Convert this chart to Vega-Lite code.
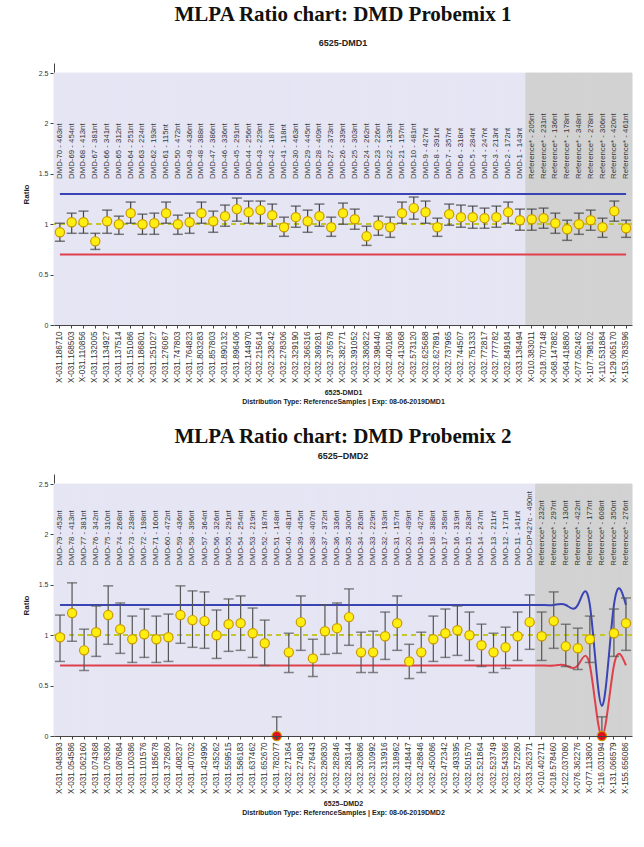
{
  "$schema": "https://vega.github.io/schema/vega-lite/v6.json",
  "background": "white",
  "padding": {"left": 22, "top": 4, "right": 2, "bottom": 2},
  "spacing": 21,
  "config": {
    "view": {"stroke": null},
    "title": {"font": "Liberation Serif", "fontWeight": "bold", "fontSize": 21, "color": "#111", "anchor": "middle", "subtitleFont": "Liberation Sans", "subtitleFontWeight": "bold", "subtitleFontSize": 9, "subtitleColor": "#222"},
    "axis": {"labelFont": "Liberation Sans", "titleFont": "Liberation Sans", "labelColor": "#333", "domainColor": "#444", "tickColor": "#444", "grid": false}
  },
  "datasets": {
    "p1": [
      {"probe": "DMD-70 - 463nt", "pos": "X-031.186710", "type": "probe", "ratio": 0.92, "lo": 0.83, "hi": 1.01, "upper": 1.3, "lower": 0.7},
      {"probe": "DMD-69 - 454nt", "pos": "X-031.168503", "type": "probe", "ratio": 1.02, "lo": 0.91, "hi": 1.11, "upper": 1.3, "lower": 0.7},
      {"probe": "DMD-68 - 413nt", "pos": "X-031.110856", "type": "probe", "ratio": 1.02, "lo": 0.91, "hi": 1.13, "upper": 1.3, "lower": 0.7},
      {"probe": "DMD-67 - 381nt", "pos": "X-031.132005", "type": "probe", "ratio": 0.83, "lo": 0.75, "hi": 0.91, "upper": 1.3, "lower": 0.7},
      {"probe": "DMD-66 - 341nt", "pos": "X-031.134927", "type": "probe", "ratio": 1.03, "lo": 0.91, "hi": 1.14, "upper": 1.3, "lower": 0.7},
      {"probe": "DMD-65 - 312nt", "pos": "X-031.137514", "type": "probe", "ratio": 1.0, "lo": 0.9, "hi": 1.08, "upper": 1.3, "lower": 0.7},
      {"probe": "DMD-64 - 251nt", "pos": "X-031.151086", "type": "probe", "ratio": 1.11, "lo": 1.01, "hi": 1.22, "upper": 1.3, "lower": 0.7},
      {"probe": "DMD-63 - 224nt", "pos": "X-031.186801", "type": "probe", "ratio": 1.0, "lo": 0.9, "hi": 1.1, "upper": 1.3, "lower": 0.7},
      {"probe": "DMD-62 - 193nt", "pos": "X-031.251027", "type": "probe", "ratio": 1.01, "lo": 0.9, "hi": 1.11, "upper": 1.3, "lower": 0.7},
      {"probe": "DMD-61 - 115nt", "pos": "X-031.276067", "type": "probe", "ratio": 1.11, "lo": 1.01, "hi": 1.22, "upper": 1.3, "lower": 0.7},
      {"probe": "DMD-50 - 472nt", "pos": "X-031.747803", "type": "probe", "ratio": 1.0, "lo": 0.9, "hi": 1.09, "upper": 1.3, "lower": 0.7},
      {"probe": "DMD-49 - 436nt", "pos": "X-031.764823", "type": "probe", "ratio": 1.02, "lo": 0.91, "hi": 1.11, "upper": 1.3, "lower": 0.7},
      {"probe": "DMD-48 - 388nt", "pos": "X-031.803283", "type": "probe", "ratio": 1.11, "lo": 1.01, "hi": 1.22, "upper": 1.3, "lower": 0.7},
      {"probe": "DMD-47 - 386nt", "pos": "X-031.857803", "type": "probe", "ratio": 1.03, "lo": 0.92, "hi": 1.13, "upper": 1.3, "lower": 0.7},
      {"probe": "DMD-46 - 336nt", "pos": "X-031.890132", "type": "probe", "ratio": 1.08, "lo": 0.98, "hi": 1.19, "upper": 1.3, "lower": 0.7},
      {"probe": "DMD-45 - 291nt", "pos": "X-031.896406", "type": "probe", "ratio": 1.15, "lo": 1.03, "hi": 1.26, "upper": 1.3, "lower": 0.7},
      {"probe": "DMD-44 - 256nt", "pos": "X-032.144970", "type": "probe", "ratio": 1.12, "lo": 1.01, "hi": 1.23, "upper": 1.3, "lower": 0.7},
      {"probe": "DMD-43 - 229nt", "pos": "X-032.215614", "type": "probe", "ratio": 1.14, "lo": 1.01, "hi": 1.23, "upper": 1.3, "lower": 0.7},
      {"probe": "DMD-42 - 187nt", "pos": "X-032.238242", "type": "probe", "ratio": 1.09, "lo": 0.98, "hi": 1.2, "upper": 1.3, "lower": 0.7},
      {"probe": "DMD-41 - 118nt", "pos": "X-032.278306", "type": "probe", "ratio": 0.97, "lo": 0.88, "hi": 1.07, "upper": 1.3, "lower": 0.7},
      {"probe": "DMD-30 - 463nt", "pos": "X-032.329190", "type": "probe", "ratio": 1.07, "lo": 0.97, "hi": 1.18, "upper": 1.3, "lower": 0.7},
      {"probe": "DMD-29 - 445nt", "pos": "X-032.366316", "type": "probe", "ratio": 1.03, "lo": 0.92, "hi": 1.14, "upper": 1.3, "lower": 0.7},
      {"probe": "DMD-28 - 409nt", "pos": "X-032.369281", "type": "probe", "ratio": 1.08, "lo": 0.98, "hi": 1.2, "upper": 1.3, "lower": 0.7},
      {"probe": "DMD-27 - 373nt", "pos": "X-032.376578", "type": "probe", "ratio": 0.97, "lo": 0.88, "hi": 1.07, "upper": 1.3, "lower": 0.7},
      {"probe": "DMD-26 - 339nt", "pos": "X-032.382771", "type": "probe", "ratio": 1.11, "lo": 1.0, "hi": 1.21, "upper": 1.3, "lower": 0.7},
      {"probe": "DMD-25 - 303nt", "pos": "X-032.391052", "type": "probe", "ratio": 1.05, "lo": 0.95, "hi": 1.15, "upper": 1.3, "lower": 0.7},
      {"probe": "DMD-24 - 262nt", "pos": "X-032.380822", "type": "probe", "ratio": 0.88, "lo": 0.79, "hi": 0.98, "upper": 1.3, "lower": 0.7},
      {"probe": "DMD-23 - 226nt", "pos": "X-032.398440", "type": "probe", "ratio": 0.99, "lo": 0.89, "hi": 1.08, "upper": 1.3, "lower": 0.7},
      {"probe": "DMD-22 - 133nt", "pos": "X-032.400186", "type": "probe", "ratio": 0.97, "lo": 0.87, "hi": 1.07, "upper": 1.3, "lower": 0.7},
      {"probe": "DMD-21 - 157nt", "pos": "X-032.413068", "type": "probe", "ratio": 1.11, "lo": 1.01, "hi": 1.22, "upper": 1.3, "lower": 0.7},
      {"probe": "DMD-10 - 481nt", "pos": "X-032.573120", "type": "probe", "ratio": 1.16, "lo": 1.05, "hi": 1.27, "upper": 1.3, "lower": 0.7},
      {"probe": "DMD-9 - 427nt", "pos": "X-032.625688", "type": "probe", "ratio": 1.12, "lo": 1.01, "hi": 1.23, "upper": 1.3, "lower": 0.7},
      {"probe": "DMD-8 - 391nt", "pos": "X-032.627891", "type": "probe", "ratio": 0.97, "lo": 0.88, "hi": 1.06, "upper": 1.3, "lower": 0.7},
      {"probe": "DMD-7 - 357nt", "pos": "X-032.737965", "type": "probe", "ratio": 1.1, "lo": 0.99, "hi": 1.2, "upper": 1.3, "lower": 0.7},
      {"probe": "DMD-6 - 318nt", "pos": "X-032.744507", "type": "probe", "ratio": 1.07, "lo": 0.97, "hi": 1.19, "upper": 1.3, "lower": 0.7},
      {"probe": "DMD-5 - 284nt", "pos": "X-032.751333", "type": "probe", "ratio": 1.07, "lo": 0.96, "hi": 1.18, "upper": 1.3, "lower": 0.7},
      {"probe": "DMD-4 - 247nt", "pos": "X-032.772817", "type": "probe", "ratio": 1.06, "lo": 0.96, "hi": 1.16, "upper": 1.3, "lower": 0.7},
      {"probe": "DMD-3 - 213nt", "pos": "X-032.777782", "type": "probe", "ratio": 1.07, "lo": 0.97, "hi": 1.18, "upper": 1.3, "lower": 0.7},
      {"probe": "DMD-2 - 172nt", "pos": "X-032.849184", "type": "probe", "ratio": 1.12, "lo": 1.01, "hi": 1.22, "upper": 1.3, "lower": 0.7},
      {"probe": "DMD-1 - 143nt", "pos": "X-033.136494", "type": "probe", "ratio": 1.04, "lo": 0.94, "hi": 1.15, "upper": 1.3, "lower": 0.7},
      {"probe": "Reference* - 205nt", "pos": "X-010.383011", "type": "reference", "ratio": 1.05, "lo": 0.94, "hi": 1.15, "upper": 1.3, "lower": 0.7},
      {"probe": "Reference* - 231nt", "pos": "X-018.707148", "type": "reference", "ratio": 1.06, "lo": 0.96, "hi": 1.16, "upper": 1.3, "lower": 0.7},
      {"probe": "Reference* - 136nt", "pos": "X-068.147882", "type": "reference", "ratio": 1.01, "lo": 0.91, "hi": 1.11, "upper": 1.3, "lower": 0.7},
      {"probe": "Reference* - 178nt", "pos": "X-064.418880", "type": "reference", "ratio": 0.95, "lo": 0.84, "hi": 1.04, "upper": 1.3, "lower": 0.7},
      {"probe": "Reference* - 348nt", "pos": "X-077.052462", "type": "reference", "ratio": 1.0, "lo": 0.9, "hi": 1.11, "upper": 1.3, "lower": 0.7},
      {"probe": "Reference* - 278nt", "pos": "X-107.798102", "type": "reference", "ratio": 1.04, "lo": 0.94, "hi": 1.14, "upper": 1.3, "lower": 0.7},
      {"probe": "Reference* - 306nt", "pos": "X-110.531884", "type": "reference", "ratio": 0.97, "lo": 0.87, "hi": 1.06, "upper": 1.3, "lower": 0.7},
      {"probe": "Reference* - 420nt", "pos": "X-129.065170", "type": "reference", "ratio": 1.13, "lo": 1.03, "hi": 1.23, "upper": 1.3, "lower": 0.7},
      {"probe": "Reference* - 461nt", "pos": "X-153.783596", "type": "reference", "ratio": 0.96, "lo": 0.87, "hi": 1.04, "upper": 1.3, "lower": 0.7}
    ],
    "p2": [
      {"probe": "DMD-79 - 453nt", "pos": "X-031.048393", "type": "probe", "ratio": 0.98, "lo": 0.74, "hi": 1.2, "upper": 1.3, "lower": 0.7},
      {"probe": "DMD-78 - 413nt", "pos": "X-031.054586", "type": "probe", "ratio": 1.22, "lo": 0.94, "hi": 1.52, "upper": 1.3, "lower": 0.7},
      {"probe": "DMD-77 - 381nt", "pos": "X-031.062160", "type": "probe", "ratio": 0.85, "lo": 0.65, "hi": 1.06, "upper": 1.3, "lower": 0.7},
      {"probe": "DMD-76 - 342nt", "pos": "X-031.074368", "type": "probe", "ratio": 1.03, "lo": 0.79, "hi": 1.29, "upper": 1.3, "lower": 0.7},
      {"probe": "DMD-75 - 310nt", "pos": "X-031.076380", "type": "probe", "ratio": 1.2, "lo": 0.91, "hi": 1.49, "upper": 1.3, "lower": 0.7},
      {"probe": "DMD-74 - 268nt", "pos": "X-031.087684", "type": "probe", "ratio": 1.06, "lo": 0.82, "hi": 1.32, "upper": 1.3, "lower": 0.7},
      {"probe": "DMD-73 - 238nt", "pos": "X-031.100386", "type": "probe", "ratio": 0.96, "lo": 0.73, "hi": 1.19, "upper": 1.3, "lower": 0.7},
      {"probe": "DMD-72 - 198nt", "pos": "X-031.101576", "type": "probe", "ratio": 1.01, "lo": 0.78, "hi": 1.26, "upper": 1.3, "lower": 0.7},
      {"probe": "DMD-71 - 160nt", "pos": "X-031.185678", "type": "probe", "ratio": 0.96, "lo": 0.73, "hi": 1.19, "upper": 1.3, "lower": 0.7},
      {"probe": "DMD-60 - 472nt", "pos": "X-031.372680", "type": "probe", "ratio": 0.98, "lo": 0.74, "hi": 1.21, "upper": 1.3, "lower": 0.7},
      {"probe": "DMD-59 - 436nt", "pos": "X-031.408237", "type": "probe", "ratio": 1.2, "lo": 0.92, "hi": 1.49, "upper": 1.3, "lower": 0.7},
      {"probe": "DMD-58 - 396nt", "pos": "X-031.407032", "type": "probe", "ratio": 1.15, "lo": 0.88, "hi": 1.44, "upper": 1.3, "lower": 0.7},
      {"probe": "DMD-57 - 364nt", "pos": "X-031.424990", "type": "probe", "ratio": 1.14, "lo": 0.87, "hi": 1.43, "upper": 1.3, "lower": 0.7},
      {"probe": "DMD-56 - 326nt", "pos": "X-031.435262", "type": "probe", "ratio": 1.0, "lo": 0.77, "hi": 1.25, "upper": 1.3, "lower": 0.7},
      {"probe": "DMD-55 - 291nt", "pos": "X-031.559515", "type": "probe", "ratio": 1.11, "lo": 0.84, "hi": 1.36, "upper": 1.3, "lower": 0.7},
      {"probe": "DMD-54 - 254nt", "pos": "X-031.586183", "type": "probe", "ratio": 1.12, "lo": 0.85, "hi": 1.39, "upper": 1.3, "lower": 0.7},
      {"probe": "DMD-53 - 219nt", "pos": "X-031.637462", "type": "probe", "ratio": 1.02, "lo": 0.78, "hi": 1.27, "upper": 1.3, "lower": 0.7},
      {"probe": "DMD-52 - 187nt", "pos": "X-031.652670", "type": "probe", "ratio": 0.92, "lo": 0.7, "hi": 1.15, "upper": 1.3, "lower": 0.7},
      {"probe": "DMD-51 - 148nt", "pos": "X-031.782077", "type": "probe", "ratio": 0.0, "lo": 0.0, "hi": 0.19, "upper": 1.3, "lower": 0.7},
      {"probe": "DMD-40 - 481nt", "pos": "X-032.271364", "type": "probe", "ratio": 0.83, "lo": 0.63, "hi": 1.02, "upper": 1.3, "lower": 0.7},
      {"probe": "DMD-39 - 445nt", "pos": "X-032.274083", "type": "probe", "ratio": 1.13, "lo": 0.85, "hi": 1.39, "upper": 1.3, "lower": 0.7},
      {"probe": "DMD-38 - 407nt", "pos": "X-032.276443", "type": "probe", "ratio": 0.77, "lo": 0.59, "hi": 0.96, "upper": 1.3, "lower": 0.7},
      {"probe": "DMD-37 - 372nt", "pos": "X-032.280830", "type": "probe", "ratio": 1.04, "lo": 0.81, "hi": 1.3, "upper": 1.3, "lower": 0.7},
      {"probe": "DMD-36 - 336nt", "pos": "X-032.282846", "type": "probe", "ratio": 1.07, "lo": 0.82, "hi": 1.32, "upper": 1.3, "lower": 0.7},
      {"probe": "DMD-35 - 300nt", "pos": "X-032.283144", "type": "probe", "ratio": 1.18, "lo": 0.9, "hi": 1.46, "upper": 1.3, "lower": 0.7},
      {"probe": "DMD-34 - 263nt", "pos": "X-032.300886", "type": "probe", "ratio": 0.83, "lo": 0.63, "hi": 1.03, "upper": 1.3, "lower": 0.7},
      {"probe": "DMD-33 - 229nt", "pos": "X-032.310992", "type": "probe", "ratio": 0.83, "lo": 0.63, "hi": 1.04, "upper": 1.3, "lower": 0.7},
      {"probe": "DMD-32 - 193nt", "pos": "X-032.313916", "type": "probe", "ratio": 0.99, "lo": 0.76, "hi": 1.23, "upper": 1.3, "lower": 0.7},
      {"probe": "DMD-31 - 157nt", "pos": "X-032.318962", "type": "probe", "ratio": 1.12, "lo": 0.85, "hi": 1.39, "upper": 1.3, "lower": 0.7},
      {"probe": "DMD-20 - 499nt", "pos": "X-032.418447", "type": "probe", "ratio": 0.74, "lo": 0.57, "hi": 0.91, "upper": 1.3, "lower": 0.7},
      {"probe": "DMD-19 - 427nt", "pos": "X-032.428846", "type": "probe", "ratio": 0.83, "lo": 0.63, "hi": 1.03, "upper": 1.3, "lower": 0.7},
      {"probe": "DMD-18 - 388nt", "pos": "X-032.450086", "type": "probe", "ratio": 0.96, "lo": 0.74, "hi": 1.19, "upper": 1.3, "lower": 0.7},
      {"probe": "DMD-17 - 358nt", "pos": "X-032.472342", "type": "probe", "ratio": 1.02, "lo": 0.78, "hi": 1.26, "upper": 1.3, "lower": 0.7},
      {"probe": "DMD-16 - 319nt", "pos": "X-032.493395", "type": "probe", "ratio": 1.05, "lo": 0.8, "hi": 1.29, "upper": 1.3, "lower": 0.7},
      {"probe": "DMD-15 - 283nt", "pos": "X-032.501570", "type": "probe", "ratio": 1.0, "lo": 0.75, "hi": 1.23, "upper": 1.3, "lower": 0.7},
      {"probe": "DMD-14 - 247nt", "pos": "X-032.521864", "type": "probe", "ratio": 0.9, "lo": 0.69, "hi": 1.11, "upper": 1.3, "lower": 0.7},
      {"probe": "DMD-13 - 211nt", "pos": "X-032.523749", "type": "probe", "ratio": 0.83, "lo": 0.63, "hi": 1.02, "upper": 1.3, "lower": 0.7},
      {"probe": "DMD-12 - 171nt", "pos": "X-032.543366", "type": "probe", "ratio": 0.88, "lo": 0.67, "hi": 1.08, "upper": 1.3, "lower": 0.7},
      {"probe": "DMD-11 - 141nt", "pos": "X-032.572280", "type": "probe", "ratio": 0.99, "lo": 0.75, "hi": 1.23, "upper": 1.3, "lower": 0.7},
      {"probe": "DMD-DP427c - 490nt", "pos": "X-033.262371", "type": "probe", "ratio": 1.13, "lo": 0.86, "hi": 1.4, "upper": 1.3, "lower": 0.7},
      {"probe": "Reference* - 232nt", "pos": "X-010.402711", "type": "reference", "ratio": 0.99, "lo": 0.75, "hi": 1.23, "upper": 1.3, "lower": 0.7},
      {"probe": "Reference* - 297nt", "pos": "X-018.578460", "type": "reference", "ratio": 1.14, "lo": 0.87, "hi": 1.43, "upper": 1.3, "lower": 0.7},
      {"probe": "Reference* - 130nt", "pos": "X-022.037080", "type": "reference", "ratio": 0.89, "lo": 0.69, "hi": 1.11, "upper": 1.3, "lower": 0.7},
      {"probe": "Reference* - 422nt", "pos": "X-076.362276", "type": "reference", "ratio": 0.87, "lo": 0.66, "hi": 1.07, "upper": 1.3, "lower": 0.7},
      {"probe": "Reference* - 177nt", "pos": "X-077.113800", "type": "reference", "ratio": 0.96, "lo": 0.73, "hi": 1.19, "upper": 1.3, "lower": 0.7},
      {"probe": "Reference* - 608nt", "pos": "X-116.031094", "type": "reference", "ratio": 0.0, "lo": 0.0, "hi": 0.19, "upper": 0.3, "lower": 0.0},
      {"probe": "Reference* - 350nt", "pos": "X-131.066579", "type": "reference", "ratio": 1.02, "lo": 0.79, "hi": 1.26, "upper": 1.3, "lower": 0.7},
      {"probe": "Reference* - 276nt", "pos": "X-155.656086", "type": "reference", "ratio": 1.12, "lo": 0.85, "hi": 1.37, "upper": 1.3, "lower": 0.7}
    ]
  },
  "vconcat": [
    {
      "width": 578,
      "height": 262,
      "title": {"text": "MLPA Ratio chart: DMD Probemix 1", "subtitle": "6525-DMD1", "subtitlePadding": 14, "offset": 15},
      "data": {"name": "p1"},
      "layer": [
        {"mark": {"type": "rect", "strokeWidth": 1},
          "encoding": {
            "x": {"field": "pos", "type": "nominal", "sort": null, "scale": {"paddingInner": 0, "paddingOuter": 0},
              "axis": {"labelAngle": -90, "labelFontSize": 8.2, "tickSize": 3, "labelPadding": 3, "title": ["6525-DMD1", "Distribution Type: ReferenceSamples | Exp: 08-06-2019DMD1"], "titleFontSize": 7, "titleFontWeight": "bold", "titleLineHeight": 9, "titlePadding": 6, "titleColor": "#222"}},
            "y": {"datum": 0, "type": "quantitative", "scale": {"domain": [0, 2.5]}, "axis": {"values": [0, 0.5, 1, 1.5, 2, 2.5], "format": "~g", "labelFontSize": 7, "tickSize": 4, "title": "Ratio", "titleFontSize": 8, "titleFontWeight": "bold", "titleColor": "#222", "titlePadding": 8}},
            "y2": {"datum": 2.5},
            "fill": {"field": "type", "type": "nominal", "scale": {"domain": ["probe", "reference"], "range": ["#e5e5f4", "#d2d2d2"]}, "legend": null},
            "stroke": {"field": "type", "type": "nominal", "scale": {"domain": ["probe", "reference"], "range": ["#e5e5f4", "#d2d2d2"]}, "legend": null}
          }},
        {"mark": {"type": "rule", "color": "#c4c62a", "strokeWidth": 1.5, "strokeDash": [5, 4]}, "encoding": {"y": {"datum": 1}}},
        {
          "encoding": {
            "x": {"field": "pos", "type": "nominal", "sort": null,
              "axis": {"labelAngle": -90, "labelFontSize": 8.2, "tickSize": 3, "labelPadding": 3, "title": ["6525-DMD1", "Distribution Type: ReferenceSamples | Exp: 08-06-2019DMD1"], "titleFontSize": 7, "titleFontWeight": "bold", "titleLineHeight": 9, "titlePadding": 6, "titleColor": "#222"}}
          },
          "layer": [
            {"mark": {"type": "line", "color": "#3a44b4", "strokeWidth": 2}, "encoding": {"y": {"field": "upper", "type": "quantitative"}}},
            {"mark": {"type": "line", "color": "#e0404c", "strokeWidth": 2}, "encoding": {"y": {"field": "lower", "type": "quantitative"}}},
            {"mark": {"type": "rule", "color": "#444", "strokeWidth": 1.2}, "encoding": {"y": {"field": "lo", "type": "quantitative"}, "y2": {"field": "hi"}}},
            {"mark": {"type": "tick", "color": "#444", "size": 10, "thickness": 1.5}, "encoding": {"y": {"field": "hi", "type": "quantitative"}}},
            {"mark": {"type": "tick", "color": "#444", "size": 10, "thickness": 1.5}, "encoding": {"y": {"field": "lo", "type": "quantitative"}}},
            {"mark": {"type": "point", "filled": true, "size": 85, "stroke": "#c89a00", "strokeWidth": 1.2, "opacity": 1},
              "encoding": {"y": {"field": "ratio", "type": "quantitative"}, "fill": {"condition": {"test": "datum.ratio == 0", "value": "#e01020"}, "value": "#ffee10"}}},
            {"mark": {"type": "text", "angle": 270, "align": "left", "baseline": "middle", "fontSize": 7.8, "font": "Liberation Sans", "color": "#333"},
              "encoding": {"y": {"datum": 1.45}, "text": {"field": "probe"}}}
          ]
        }
      ]
    },
    {
      "width": 578,
      "height": 262,
      "title": {"text": "MLPA Ratio chart: DMD Probemix 2", "subtitle": "6525–DMD2", "subtitlePadding": 5, "offset": 13},
      "data": {"name": "p2"},
      "layer": [
        {"mark": {"type": "rect", "strokeWidth": 1},
          "encoding": {
            "x": {"field": "pos", "type": "nominal", "sort": null, "scale": {"paddingInner": 0, "paddingOuter": 0},
              "axis": {"labelAngle": -90, "labelFontSize": 8.2, "tickSize": 3, "labelPadding": 3, "title": ["6525–DMD2", "Distribution Type: ReferenceSamples | Exp: 08-06-2019DMD2"], "titleFontSize": 7, "titleFontWeight": "bold", "titleLineHeight": 9, "titlePadding": 6, "titleColor": "#222"}},
            "y": {"datum": 0, "type": "quantitative", "scale": {"domain": [0, 2.5]}, "axis": {"values": [0, 0.5, 1, 1.5, 2, 2.5], "format": "~g", "labelFontSize": 7, "tickSize": 4, "title": "Ratio", "titleFontSize": 8, "titleFontWeight": "bold", "titleColor": "#222", "titlePadding": 8}},
            "y2": {"datum": 2.5},
            "fill": {"field": "type", "type": "nominal", "scale": {"domain": ["probe", "reference"], "range": ["#e5e5f4", "#d2d2d2"]}, "legend": null},
            "stroke": {"field": "type", "type": "nominal", "scale": {"domain": ["probe", "reference"], "range": ["#e5e5f4", "#d2d2d2"]}, "legend": null}
          }},
        {"mark": {"type": "rule", "color": "#c4c62a", "strokeWidth": 1.5, "strokeDash": [5, 4]}, "encoding": {"y": {"datum": 1}}},
        {
          "encoding": {
            "x": {"field": "pos", "type": "nominal", "sort": null,
              "axis": {"labelAngle": -90, "labelFontSize": 8.2, "tickSize": 3, "labelPadding": 3, "title": ["6525–DMD2", "Distribution Type: ReferenceSamples | Exp: 08-06-2019DMD2"], "titleFontSize": 7, "titleFontWeight": "bold", "titleLineHeight": 9, "titlePadding": 6, "titleColor": "#222"}}
          },
          "layer": [
            {"mark": {"type": "line", "color": "#3a44b4", "strokeWidth": 2, "interpolate": "natural"}, "encoding": {"y": {"field": "upper", "type": "quantitative"}}},
            {"mark": {"type": "line", "color": "#e0404c", "strokeWidth": 2, "interpolate": "natural"}, "encoding": {"y": {"field": "lower", "type": "quantitative"}}},
            {"mark": {"type": "rule", "color": "#555", "strokeWidth": 1.2}, "encoding": {"y": {"field": "lo", "type": "quantitative"}, "y2": {"field": "hi"}}},
            {"mark": {"type": "tick", "color": "#555", "size": 10, "thickness": 1.5}, "encoding": {"y": {"field": "hi", "type": "quantitative"}}},
            {"mark": {"type": "tick", "color": "#555", "size": 10, "thickness": 1.5}, "encoding": {"y": {"field": "lo", "type": "quantitative"}}},
            {"mark": {"type": "point", "filled": true, "size": 85, "stroke": "#c89a00", "strokeWidth": 1.2, "opacity": 1},
              "encoding": {"y": {"field": "ratio", "type": "quantitative"}, "fill": {"condition": {"test": "datum.ratio == 0", "value": "#e01020"}, "value": "#ffee10"}}},
            {"mark": {"type": "text", "angle": 270, "align": "left", "baseline": "middle", "fontSize": 7.8, "font": "Liberation Sans", "color": "#333"},
              "encoding": {"y": {"datum": 1.69}, "text": {"field": "probe"}}}
          ]
        }
      ]
    }
  ]
}
